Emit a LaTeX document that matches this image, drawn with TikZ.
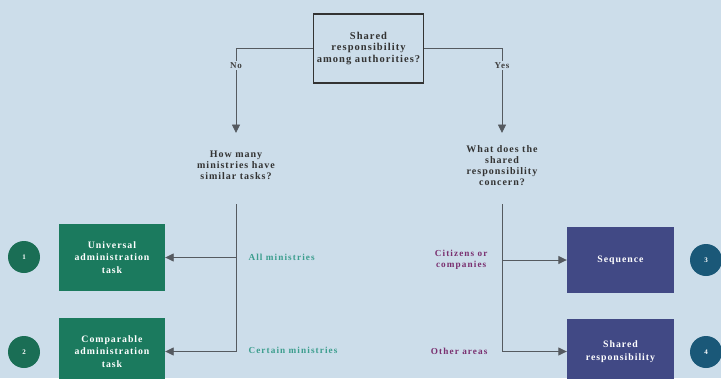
\documentclass[tikz,border=0pt]{standalone}
\usepackage{fontspec}
\setmainfont{Liberation Serif}[LetterSpace=10]
\usetikzlibrary{arrows.meta,calc}
\definecolor{bgblue}{HTML}{CCDDEA}
\definecolor{boxgreen}{HTML}{1B7A5E}
\definecolor{dotgreen}{HTML}{1A6E55}
\definecolor{boxblue}{HTML}{414985}
\definecolor{dotblue}{HTML}{1A5878}
\definecolor{txtteal}{HTML}{3C9E8E}
\definecolor{txtpurple}{HTML}{7A3070}
\definecolor{linegray}{HTML}{555A60}
\begin{document}
\begin{tikzpicture}[x=1pt,y=-1pt,font=\fontsize{10}{11}\selectfont\bfseries]
	\tikzstyle{question} = [align=center, text=black!80]
	\tikzstyle{greenbox} = [rectangle, fill=boxgreen, text=white, align=center, minimum width=106pt, minimum height=67pt, font=\fontsize{9.8}{12.5}\selectfont\bfseries]
	\tikzstyle{bluebox} = [rectangle, fill=boxblue, text=white, align=center, minimum width=107pt, minimum height=66pt, font=\fontsize{9.8}{12.5}\selectfont\bfseries]
	\tikzstyle{dot} = [circle, text=white, minimum size=32pt, inner sep=0pt, font=\fontsize{7}{8}\selectfont\bfseries]
	\tikzstyle{branch} = [draw=linegray, line width=0.9pt]
	\tikzstyle{tip} = [-{Triangle[length=8.5pt,width=8pt]}]
	\tikzstyle{answer} = [fill=bgblue, text=black!75, inner sep=1.5pt, font=\fontsize{9}{11}\selectfont\bfseries]
	\tikzstyle{label} = [font=\fontsize{9.2}{10.5}\selectfont\bfseries\addfontfeatures{LetterSpace=12}]
	\fill[bgblue] (0,0) rectangle (721,378);
	\clip (0,0) rectangle (721,378);
	\useasboundingbox (0,0) rectangle (721,378);
	\node[draw=black!80, line width=1.6pt, minimum width=109pt, minimum height=69pt, align=center, text=black!80, font=\fontsize{10.5}{11.5}\selectfont\bfseries] (q) at (368.5,48.5) {Shared\\responsibility\\among authorities?};
	\node[question] (many) at (236,165) {How many\\ministries have\\similar tasks?};
	\node[question] (what) at (502,166) {What does the\\shared\\responsibility\\concern?};
	\coordinate (tipl) at (236,133);
	\coordinate (tipr) at (502,133);
	\draw[branch,tip] (q.west) -| node[answer, pos=0.6] {No} (tipl);
	\draw[branch,tip] (q.east) -| node[answer, pos=0.6] {Yes} (tipr);
	\node[greenbox] (b1) at (112,257.5) {Universal\\administration\\task};
	\node[greenbox] (b2) at (112,351.5) {Comparable\\administration\\task};
	\node[bluebox] (b3) at (620.5,260) {Sequence};
	\node[bluebox] (b4) at (620.5,351.5) {Shared\\responsibility};
	\node[dot, fill=dotgreen] (c1) at (24,257) {1};
	\node[dot, fill=dotgreen] (c2) at (24,352) {2};
	\node[dot, fill=dotblue] (c3) at (706,260) {3};
	\node[dot, fill=dotblue] (c4) at (706,352) {4};
	\coordinate (topl) at (236,204);
	\coordinate (topr) at (502,204);
	\draw[branch] (topl) -- (topl |- b2.east);
	\draw[branch] (topr) -- (topr |- b4.west);
	\draw[branch,tip] (topl |- b1.east) -- (b1.east);
	\draw[branch,tip] (topl |- b2.east) -- (b2.east);
	\draw[branch,tip] (topr |- b3.west) -- (b3.west);
	\draw[branch,tip] (topr |- b4.west) -- (b4.west);
	\node[label, anchor=west, text=txtteal] (all) at (245,257) {All ministries};
	\node[label, anchor=west, text=txtteal] (certain) at (245,350) {Certain ministries};
	\node[label, anchor=east, text=txtpurple, align=center] (citizens) at (491,260) {Citizens or\\companies};
	\node[label, anchor=east, text=txtpurple] (other) at (491,351) {Other areas};
\end{tikzpicture}
\end{document}
